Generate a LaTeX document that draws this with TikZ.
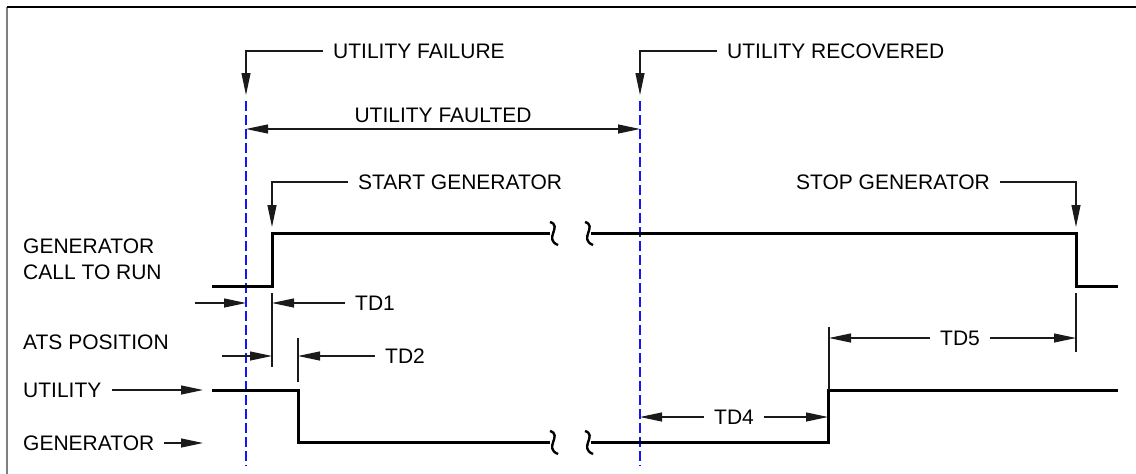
\documentclass[tikz,border=0pt]{standalone}
\usepackage{fontspec}
\setmainfont{Liberation Sans}
\usetikzlibrary{arrows.meta}
\definecolor{TDBlue}{HTML}{1414FF}
\definecolor{TDFrame}{HTML}{7F7F7F}
\definecolor{TDLead}{HTML}{1A1A1A}
\tikzset{
  lbl/.style={font=\fontsize{21}{26}\selectfont,inner sep=0pt},
  tag/.style={lbl,inner xsep=10pt},
  sig/.style={line width=3pt,line join=miter},
  dim/.style={TDLead,line width=1.1pt},
  guide/.style={TDBlue,line width=2.6pt,dash pattern=on 10pt off 4pt},
}

\begin{document}
\begin{tikzpicture}[x=1pt,y=-1pt,>={Triangle[length=22pt,width=9pt]}]
\path[use as bounding box] (0,0) rectangle (1136,474);
\draw[TDFrame,line width=2pt] (7,474) -- (7,7);
\draw[line width=2pt] (7,7) -- (1136,7);
% event lines
\coordinate (fail) at (246,95);
\coordinate (rec) at (640,95);
\draw[guide] (246,101) -- (246,466);
\draw[guide] (640,101) -- (640,466);
% event labels
\node[tag,anchor=west] (ufail) at (323,51) {UTILITY FAILURE};
\draw[dim,->] (ufail.west) -| (fail);
\node[tag,anchor=west] (urec) at (717,51) {UTILITY RECOVERED};
\draw[dim,->] (urec.west) -| (rec);
\coordinate (fltA) at (246,129);
\coordinate (fltB) at (640,129);
\draw[dim,<->] (fltA) -- (fltB);
\node[lbl] (ufault) at (443,115) {UTILITY FAULTED};
\coordinate (startpt) at (272,227);
\node[tag,anchor=west] (sgen) at (348,182) {START GENERATOR};
\draw[dim,->] (sgen.west) -| (startpt);
\coordinate (stoppt) at (1076,227);
\node[tag,anchor=east] (pgen) at (1000,182) {STOP GENERATOR};
\draw[dim,->] (pgen.east) -| (stoppt);
% generator call to run
\node[tag,anchor=west,align=left] (callrun) at (13,259) {GENERATOR\\CALL TO RUN};
\draw[sig] (212,286) -- (272,286) -- (272,233) -- (550,233);
\draw[line width=2.4pt] (550,222) .. controls (563,226) and (543,239) .. (558,245);
\draw[line width=2.4pt] (585,222) .. controls (598,226) and (578,239) .. (593,245);
\draw[sig] (591,233) -- (1076,233) -- (1076,286) -- (1118,286);
% TD1
\node[tag,anchor=west] (td1) at (345,303) {TD1};
\coordinate (td1a) at (246,303);
\coordinate (td1b) at (272,303);
\draw[dim] (272,293) -- (272,367);
\draw[dim,->] (195,303) -- (td1a);
\draw[dim,->] (td1.west) -- (td1b);
% ATS position
\node[tag,anchor=west] (ats) at (13,342) {ATS POSITION};
% TD2
\node[tag,anchor=west] (td2) at (375,356) {TD2};
\coordinate (td2a) at (272,356);
\coordinate (td2b) at (298,356);
\draw[dim] (298,338) -- (298,382);
\draw[dim,->] (222,356) -- (td2a);
\draw[dim,->] (td2.west) -- (td2b);
% utility / generator positions
\node[tag,anchor=west] (utl) at (13,390) {UTILITY};
\node[tag,anchor=west] (gnl) at (13,443) {GENERATOR};
\coordinate (utin) at (203,390);
\coordinate (gnin) at (203,443);
\draw[dim,->] (utl.east) -- (utin);
\draw[dim,->] (gnl.east) -- (gnin);
\draw[sig] (212,390) -- (298,390) -- (298,442) -- (550,442);
\draw[line width=2.4pt] (550,431) .. controls (563,435) and (543,448) .. (558,454);
\draw[line width=2.4pt] (585,431) .. controls (598,435) and (578,448) .. (593,454);
\draw[sig] (591,442) -- (828,442) -- (828,390) -- (1118,390);
% TD4
\node[tag] (td4) at (734,417) {TD4};
\coordinate (td4a) at (640,417);
\coordinate (td4b) at (828,417);
\draw[dim,->] (td4.west) -- (td4a);
\draw[dim,->] (td4.east) -- (td4b);
% TD5
\node[tag] (td5) at (960,338) {TD5};
\coordinate (td5a) at (829,338);
\coordinate (td5b) at (1076,338);
\draw[dim] (829,327) -- (829,390);
\draw[dim] (1076,293) -- (1076,352);
\draw[dim,->] (td5.west) -- (td5a);
\draw[dim,->] (td5.east) -- (td5b);
\end{tikzpicture}
\end{document}
